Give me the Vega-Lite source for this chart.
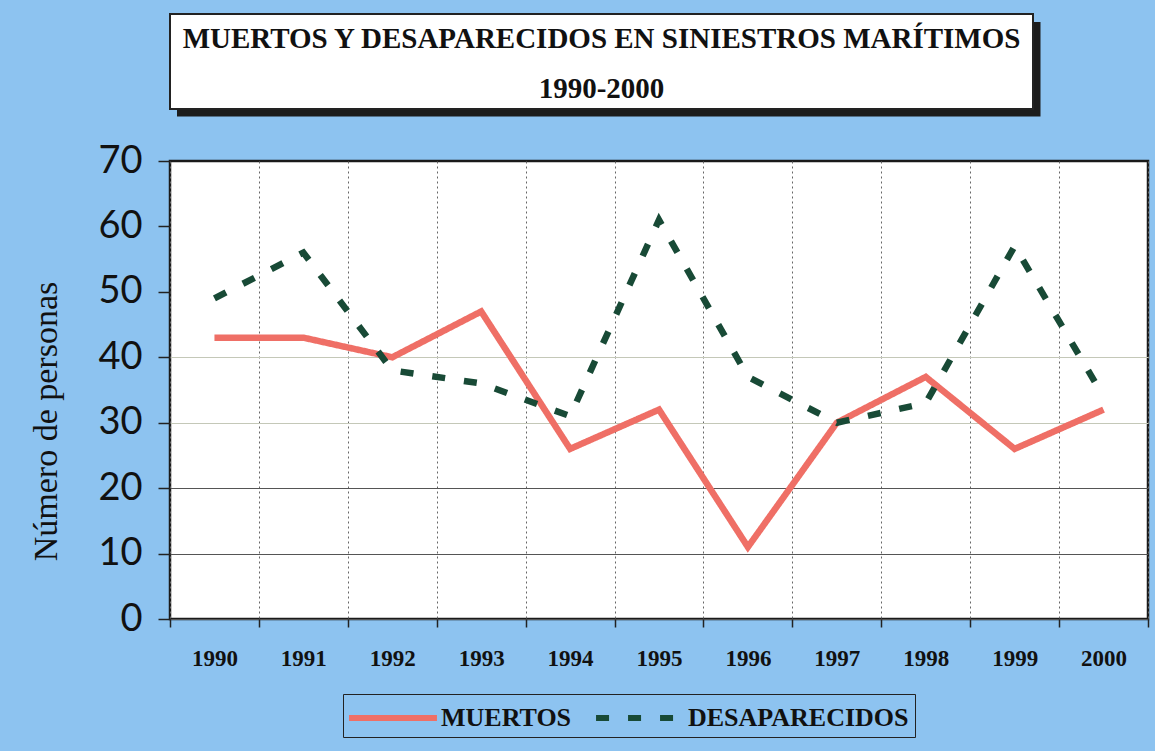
{
  "$schema": "https://vega.github.io/schema/vega-lite/v6.json",
  "background": "#8dc3f0",
  "padding": {"left": 28, "top": 6, "right": 5, "bottom": 14},
  "spacing": 23,
  "config": {
    "view": {"fill": "white", "stroke": "#1a1a1a", "strokeWidth": 2.5}
  },
  "vconcat": [
    {
      "width": 863,
      "height": 95,
      "view": {"fill": null, "stroke": null},
      "data": {"values": [{"titulo": "MUERTOS Y DESAPARECIDOS EN SINIESTROS MARÍTIMOS", "periodo": "1990-2000"}]},
      "layer": [
        {"mark": {"type": "rect", "fill": null, "stroke": "#1c1c1c", "strokeWidth": 15, "strokeDash": [0, 871, 943, 1000], "strokeJoin": "miter"}, "encoding": {}},
        {"mark": {"type": "rect", "fill": "white", "stroke": "#222222", "strokeWidth": 2}, "encoding": {}},
        {"mark": {"type": "text", "font": "Liberation Serif", "fontWeight": "bold", "fontSize": 29, "color": "#111111", "dy": -23}, "encoding": {"text": {"field": "titulo"}}},
        {"mark": {"type": "text", "font": "Liberation Serif", "fontWeight": "bold", "fontSize": 29, "color": "#111111", "dy": 27}, "encoding": {"text": {"field": "periodo"}}}
      ]
    },
    {
      "width": 978,
      "height": 458,
      "data": {"values": [
        {"anio": 1990, "serie": "MUERTOS", "personas": 43},
        {"anio": 1991, "serie": "MUERTOS", "personas": 43},
        {"anio": 1992, "serie": "MUERTOS", "personas": 40},
        {"anio": 1993, "serie": "MUERTOS", "personas": 47},
        {"anio": 1994, "serie": "MUERTOS", "personas": 26},
        {"anio": 1995, "serie": "MUERTOS", "personas": 32},
        {"anio": 1996, "serie": "MUERTOS", "personas": 11},
        {"anio": 1997, "serie": "MUERTOS", "personas": 30},
        {"anio": 1998, "serie": "MUERTOS", "personas": 37},
        {"anio": 1999, "serie": "MUERTOS", "personas": 26},
        {"anio": 2000, "serie": "MUERTOS", "personas": 32},
        {"anio": 1990, "serie": "DESAPARECIDOS", "personas": 49},
        {"anio": 1991, "serie": "DESAPARECIDOS", "personas": 56},
        {"anio": 1992, "serie": "DESAPARECIDOS", "personas": 38},
        {"anio": 1993, "serie": "DESAPARECIDOS", "personas": 36},
        {"anio": 1994, "serie": "DESAPARECIDOS", "personas": 31},
        {"anio": 1995, "serie": "DESAPARECIDOS", "personas": 61},
        {"anio": 1996, "serie": "DESAPARECIDOS", "personas": 37},
        {"anio": 1997, "serie": "DESAPARECIDOS", "personas": 30},
        {"anio": 1998, "serie": "DESAPARECIDOS", "personas": 33},
        {"anio": 1999, "serie": "DESAPARECIDOS", "personas": 57},
        {"anio": 2000, "serie": "DESAPARECIDOS", "personas": 34}
      ]},
      "mark": {"type": "line", "strokeWidth": 6.5, "strokeCap": "butt", "strokeJoin": "miter"},
      "encoding": {
        "x": {
          "field": "anio", "type": "ordinal", "bandPosition": 0.5,
          "scale": {"type": "band", "paddingInner": 0, "paddingOuter": 0},
          "axis": {
            "title": null, "labelAngle": 0, "tickBand": "extent", "domain": false,
            "grid": true, "gridDash": [2, 3], "gridColor": "#666666", "gridWidth": 1,
            "tickSize": 8, "tickColor": "#222222", "tickWidth": 1.5,
            "labelFont": "Liberation Serif", "labelFontSize": 23, "labelFontWeight": "bold", "labelColor": "#111111", "labelPadding": 20
          }
        },
        "y": {
          "field": "personas", "type": "quantitative",
          "scale": {"domain": [0, 70], "nice": false},
          "axis": {
            "values": [0, 10, 20, 30, 40, 50, 60, 70], "domain": false,
            "tickSize": 12, "tickColor": "#222222", "tickWidth": 1.5,
            "grid": true,
            "gridColor": {"condition": {"test": "datum.value <= 20", "value": "#555555"}, "value": "#c4c8b8"},
            "gridOpacity": {"condition": {"test": "datum.value >= 50", "value": 0}, "value": 1},
            "labelFont": "Lato", "labelFontSize": 38, "labelColor": "#111111", "labelPadding": 16,
            "title": "Número de personas", "titleFont": "Liberation Serif", "titleFontSize": 34,
            "titleFontWeight": "normal", "titleColor": "#111111", "titlePadding": 34, "titleY": 260
          }
        },
        "color": {
          "field": "serie", "type": "nominal",
          "scale": {"domain": ["MUERTOS", "DESAPARECIDOS"], "range": ["#ef6f66", "#184a36"]},
          "legend": {
            "orient": "none", "legendX": 173, "legendY": 680, "direction": "horizontal", "title": null,
            "strokeColor": "#222222", "padding": 6,
            "symbolType": "M-2.93,0H2.93", "symbolSize": 900, "symbolStrokeWidth": 6, "symbolOffset": 26,
            "labelOffset": 30, "columnPadding": 12, "labelLimit": 400,
            "labelFont": "Liberation Serif", "labelFontSize": 26, "labelFontWeight": "bold", "labelColor": "#111111"
          }
        },
        "strokeDash": {
          "field": "serie", "type": "nominal",
          "scale": {"domain": ["MUERTOS", "DESAPARECIDOS"], "range": [[1, 0], [13, 19]]},
          "legend": {
            "orient": "none", "legendX": 173, "legendY": 680, "direction": "horizontal", "title": null,
            "strokeColor": "#222222", "padding": 6,
            "symbolType": "M-2.93,0H2.93", "symbolSize": 900, "symbolStrokeWidth": 6, "symbolOffset": 26,
            "labelOffset": 30, "columnPadding": 12, "labelLimit": 400,
            "labelFont": "Liberation Serif", "labelFontSize": 26, "labelFontWeight": "bold", "labelColor": "#111111"
          }
        }
      }
    }
  ]
}
